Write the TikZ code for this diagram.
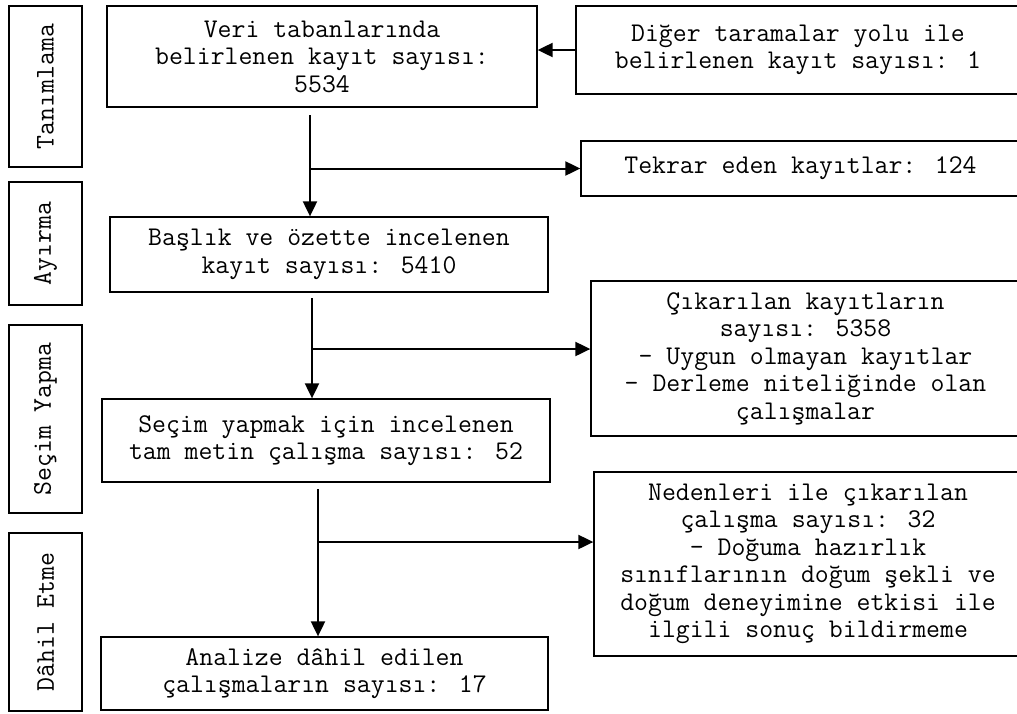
\documentclass[tikz,border=0pt]{standalone}
\usepackage{fontspec}
\usepackage{tikz}
\usetikzlibrary{arrows.meta, positioning, calc}

\begin{document}
\begin{tikzpicture}[x=1pt,y=1pt,
  box/.style={draw,line width=1.3pt,inner sep=0pt,align=center,
    font=\ttfamily\fontsize{27}{27.5}\selectfont},
  phase/.style={box,rotate=90},
  arr/.style={line width=2pt,-{Triangle[length=15pt,width=14pt]}}]
\useasboundingbox (0,0) rectangle (1017,-713);

% Phases
\node[phase,minimum width=161,minimum height=73] (ph1) at (45.5,-86.5) {Tanımlama};
\node[phase,minimum width=123,minimum height=73] (ph2) at (45.5,-243.5) {Ayırma};
\node[phase,minimum width=188,minimum height=73] (ph3) at (45.5,-419) {Seçim Yapma};
\node[phase,minimum width=178,minimum height=73] (ph4) at (45.5,-622) {Dâhil Etme};

% Main flow
\node[box,minimum width=430,minimum height=101] (records) at (322,-56.5) {Veri tabanlarında\\belirlenen kayıt sayısı:\\5534};
\node[box,minimum width=438,minimum height=75] (screened) at (329,-254.5) {Başlık ve özette incelenen\\kayıt sayısı: 5410};
\node[box,minimum width=448,minimum height=83] (fulltext) at (326,-440.5) {Seçim yapmak için incelenen\\tam metin çalışma sayısı: 52};
\node[box,minimum width=447,minimum height=73] (included) at (324.5,-673.5) {Analize dâhil edilen\\çalışmaların sayısı: 17};

% Side boxes
\node[box,minimum width=444,minimum height=88] (other) at (798,-50) {Diğer taramalar yolu ile\\belirlenen kayıt sayısı: 1};
\node[box,minimum width=439,minimum height=55] (dupl) at (800.5,-168.5) {Tekrar eden kayıtlar: 124};
\node[box,minimum width=429,minimum height=155] (excl) at (805.5,-358.5) {Çıkarılan kayıtların\\sayısı: 5358\\- Uygun olmayan kayıtlar\\- Derleme niteliğinde olan\\çalışmalar};
\node[box,minimum width=428,minimum height=184] (reasons) at (808,-564) {Nedenleri ile çıkarılan\\çalışma sayısı: 32\\- Doğuma hazırlık\\sınıflarının doğum şekli ve\\doğum deneyimine etkisi ile\\ilgili sonuç bildirmeme};

% Line starts and branch points
\coordinate (s1) at (310,-115);
\coordinate (s2) at (312,-298);
\coordinate (j2) at (312,-349);
\coordinate (s3) at (318,-489);
\coordinate (j3) at (318,-542);

% Arrows
\draw[arr] (other.west) -- (other.west -| records.east);
\draw[arr] (s1) -- (s1 |- screened.north);
\draw[arr] (s1 |- dupl.west) -- (dupl.west);
\draw[arr] (s2) -- (s2 |- fulltext.north);
\draw[arr] (j2) -- (j2 -| excl.west);
\draw[arr] (s3) -- (s3 |- included.north);
\draw[arr] (j3) -- (j3 -| reasons.west);
\end{tikzpicture}
\end{document}
